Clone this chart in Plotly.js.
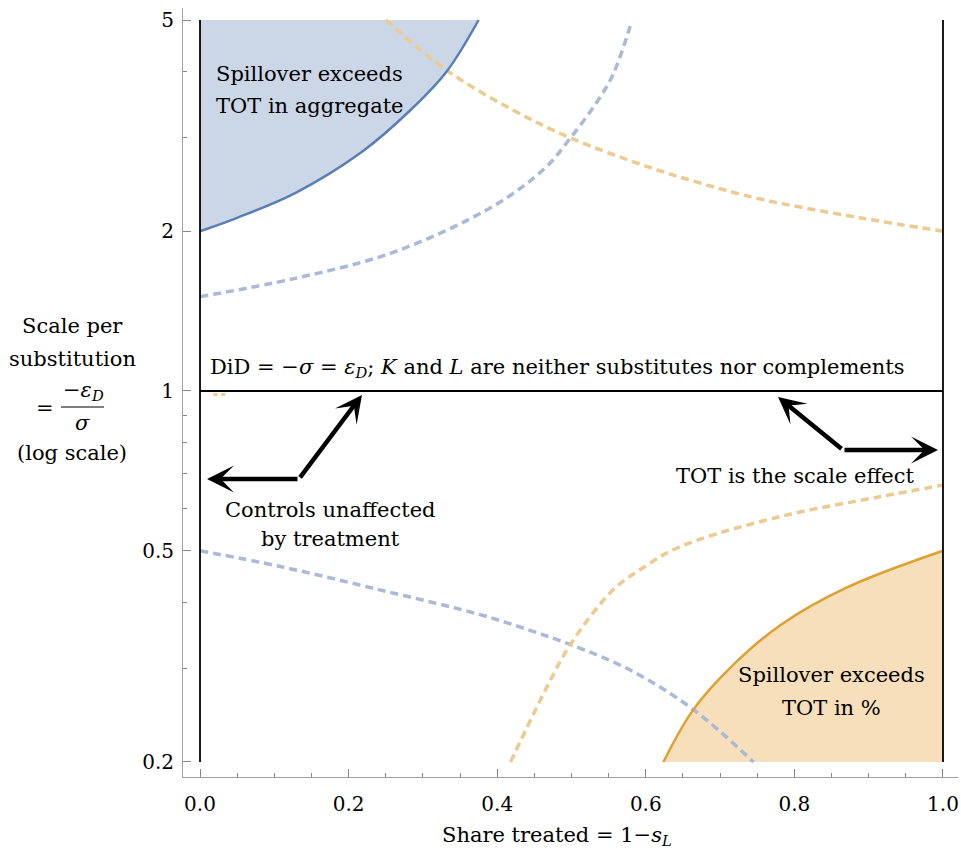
<!DOCTYPE html>
<html>
<head>
<meta charset="utf-8">
<script src="https://cdn.plot.ly/plotly-3.0.1.min.js"></script>
<style>html,body{margin:0;padding:0;background:#fff;}#chart{width:961px;height:858px;}</style>
</head>
<body>
<div id="chart"></div>
<script>
// ---- data ----
const blueSolidX = [0, 0.05, 0.128, 0.2176, 0.283, 0.332, 0.375];
const blueSolidY = [2.0, 2.12, 2.36, 2.82, 3.38, 4.0, 5.0];

const blueDashUpX = [0, 0.128, 0.2625, 0.397, 0.4643, 0.498, 0.534, 0.556, 0.579];
const blueDashUpY = [1.506, 1.63, 1.83, 2.24, 2.63, 2.99, 3.50, 3.95, 4.87];

const orangeDashUpX = [0.25, 0.332, 0.4217, 0.498, 0.601, 0.673, 0.754, 0.888, 1.0];
const orangeDashUpY = [5.0, 4.02, 3.38, 3.0, 2.65, 2.465, 2.30, 2.12, 2.0];

const blueDashLowX = [0, 0.108, 0.242, 0.377, 0.444, 0.498, 0.579, 0.664, 0.745];
const blueDashLowY = [0.5, 0.467, 0.422, 0.379, 0.354, 0.333, 0.298, 0.251, 0.2];

const orangeDashLowX = [0.418, 0.467, 0.498, 0.556, 0.6, 0.646, 0.781, 0.915, 1.0];
const orangeDashLowY = [0.2, 0.277, 0.332, 0.422, 0.468, 0.509, 0.58, 0.632, 0.665];

const orangeSolidX = [0.6236, 0.664, 0.718, 0.781, 0.870, 1.0];
const orangeSolidY = [0.2, 0.251, 0.305, 0.362, 0.426, 0.5];

const orangeStubX = [0.018, 0.034];
const orangeStubY = [0.985, 0.985];

const blueTopX = [0, 0.375];
const blueTopY = [5, 5];
const orangeBottomX = [0.6236, 1.0];
const orangeBottomY = [0.2, 0.2];

const leftLineX = [0, 0];
const rightLineX = [1, 1];
const verticalLineY = [0.2, 5];
const unitLineX = [0, 1];
const unitLineY = [1, 1];

const xTickVals = [0, 0.2, 0.4, 0.6, 0.8, 1.0];
const xTickText = ["0.0", "0.2", "0.4", "0.6", "0.8", "1.0"];
const yTickVals = [0.2, 0.5, 1, 2, 5];
const yTickText = ["0.2", "0.5", "1", "2", "5"];
const yMinorVals = [0.3, 0.4, 0.6, 0.7, 0.8, 0.9, 3, 4];

// ---- styles ----
const BLUE = '#5b7db5', BLUE_FILL = '#cbd6e6', BLUE_DASH = '#a9b9d6';
const ORANGE = '#e0a030', ORANGE_FILL = '#f6dfba', ORANGE_DASH = '#ecca90';
const FONT = 'DejaVu Serif';
const TS = 21;
const DASH = '8px,5px';

const traces = [
  {x: blueTopX, y: blueTopY, mode: 'lines', line: {width: 0}, hoverinfo: 'skip', showlegend: false},
  {x: blueSolidX, y: blueSolidY, mode: 'lines', fill: 'tonexty', fillcolor: BLUE_FILL,
   line: {color: BLUE, width: 0, shape: 'spline'}, hoverinfo: 'skip', showlegend: false},
  {x: orangeBottomX, y: orangeBottomY, mode: 'lines', line: {width: 0}, hoverinfo: 'skip', showlegend: false},
  {x: orangeSolidX, y: orangeSolidY, mode: 'lines', fill: 'tonexty', fillcolor: ORANGE_FILL,
   line: {color: ORANGE, width: 0, shape: 'spline'}, hoverinfo: 'skip', showlegend: false},
  {x: blueDashUpX, y: blueDashUpY, mode: 'lines', line: {color: BLUE_DASH, width: 3.5, dash: DASH, shape: 'spline'}, showlegend: false},
  {x: orangeDashUpX, y: orangeDashUpY, mode: 'lines', line: {color: ORANGE_DASH, width: 3.5, dash: DASH, shape: 'spline'}, showlegend: false},
  {x: blueDashLowX, y: blueDashLowY, mode: 'lines', line: {color: BLUE_DASH, width: 3.5, dash: DASH, shape: 'spline'}, showlegend: false},
  {x: orangeDashLowX, y: orangeDashLowY, mode: 'lines', line: {color: ORANGE_DASH, width: 3.5, dash: DASH, shape: 'spline'}, showlegend: false},
  {x: orangeStubX, y: orangeStubY, mode: 'lines', line: {color: ORANGE_DASH, width: 3, dash: '4px,4px'}, showlegend: false},
  {x: blueSolidX, y: blueSolidY, mode: 'lines', line: {color: BLUE, width: 2.5, shape: 'spline'}, showlegend: false},
  {x: orangeSolidX, y: orangeSolidY, mode: 'lines', line: {color: ORANGE, width: 2.5, shape: 'spline'}, showlegend: false},
  {x: leftLineX, y: verticalLineY, mode: 'lines', line: {color: '#000', width: 1.8}, showlegend: false},
  {x: rightLineX, y: verticalLineY, mode: 'lines', line: {color: '#000', width: 1.8}, showlegend: false},
  {x: unitLineX, y: unitLineY, mode: 'lines', line: {color: '#000', width: 1.8}, showlegend: false}
];

const L = Math.log10;
const txt = (text, x, y) => ({
  text: text, x: x, y: y, xref: 'x', yref: 'y', showarrow: false,
  font: {family: FONT, size: TS, color: '#000'}, xanchor: 'center', yanchor: 'middle'
});
const ptxt = (text, x, y) => ({
  text: text, x: x, y: y, xref: 'paper', yref: 'paper', showarrow: false,
  font: {family: FONT, size: TS, color: '#000'}, xanchor: 'center', yanchor: 'middle'
});
const arrow = (x, y, ax, ay) => ({
  text: '', x: x, y: y, ax: ax, ay: ay, xref: 'x', yref: 'y', axref: 'x', ayref: 'y',
  showarrow: true, arrowhead: 3, arrowsize: 1.0, arrowwidth: 4.5, arrowcolor: '#000', standoff: 0
});

const annotations = [
  txt('Spillover exceeds', 0.148, L(3.955)),
  txt('TOT in aggregate', 0.148, L(3.44)),
  txt('DiD = −<i>σ</i> = <i>ε</i><sub><i>D</i></sub>; <i>K</i> and <i>L</i> are neither substitutes nor complements', 0.4805, L(1.105)),
  txt('Controls unaffected', 0.175, L(0.597)),
  txt('by treatment', 0.175, L(0.526)),
  txt('TOT is the scale effect', 0.801, L(0.692)),
  txt('Spillover exceeds', 0.8506, L(0.2917)),
  txt('TOT in %', 0.8506, L(0.2528)),
  arrow(0.0094, L(0.6827), 0.1332, L(0.6827)),
  arrow(0.218, L(0.983), 0.1332, L(0.6827)),
  arrow(0.778, L(0.974), 0.8654, L(0.7745)),
  arrow(0.9933, L(0.7745), 0.8654, L(0.7745)),
  // y-axis title pieces (paper coords)
  ptxt('Scale per', (72 - 183) / 775, (777 - 326) / 769),
  ptxt('substitution', (72 - 183) / 775, (777 - 359) / 769),
  ptxt('=', (45 - 183) / 775, (777 - 408) / 769),
  ptxt('−<i>ε</i><sub><i>D</i></sub>', (83 - 183) / 775, (777 - 391) / 769),
  ptxt('<i>σ</i>', (82 - 183) / 775, (777 - 423) / 769),
  ptxt('(log scale)', (72 - 183) / 775, (777 - 453) / 769),
  // x-axis title
  ptxt('Share treated = 1−<i>s</i><sub><i>L</i></sub>', (557 - 183) / 775, (777 - 836) / 769)
];

const shapes = [
  {type: 'line', xref: 'paper', yref: 'paper', x0: (61 - 183) / 775, x1: (104 - 183) / 775,
   y0: (777 - 407) / 769, y1: (777 - 407) / 769, line: {color: '#000', width: 1.2}}
];

const layout = {
  width: 961, height: 858,
  margin: {l: 183, r: 3, t: 8, b: 81, pad: 0},
  paper_bgcolor: '#fff', plot_bgcolor: '#fff',
  font: {family: FONT, size: TS, color: '#000'},
  showlegend: false,
  xaxis: {
    range: [-0.0229, 1.0202], showgrid: false, zeroline: false,
    showline: true, linecolor: '#a0a0a0', linewidth: 1,
    ticks: 'inside', ticklen: 8, tickwidth: 1, tickcolor: '#888',
    tickmode: 'array', tickvals: xTickVals, ticktext: xTickText,
    ticklabelstandoff: 9, ticklabeloverflow: 'allow',
    tickfont: {family: FONT, size: 20, color: '#000'},
    minor: {ticks: 'inside', ticklen: 4, tickwidth: 1, tickcolor: '#888', dtick: 0.05, tick0: 0}
  },
  yaxis: {
    type: 'log', range: [-0.7273, 0.7216], showgrid: false, zeroline: false,
    showline: true, linecolor: '#a0a0a0', linewidth: 1,
    ticks: 'inside', ticklen: 8, tickwidth: 1, tickcolor: '#888',
    tickmode: 'array', tickvals: yTickVals, ticktext: yTickText,
    ticklabelstandoff: 4, ticklabeloverflow: 'allow',
    tickfont: {family: FONT, size: 20, color: '#000'},
    minor: {ticks: 'inside', ticklen: 4, tickwidth: 1, tickcolor: '#888', tickmode: 'array', tickvals: yMinorVals}
  },
  annotations: annotations,
  shapes: shapes
};

Plotly.newPlot('chart', traces, layout, {staticPlot: true, displayModeBar: false});
</script>
</body>
</html>
